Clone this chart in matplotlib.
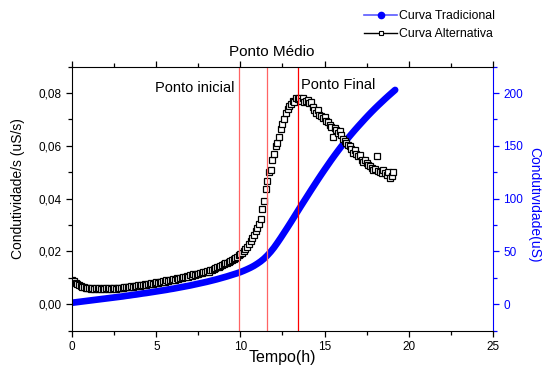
import matplotlib.pyplot as plt
import numpy as np
from matplotlib.lines import Line2D
from matplotlib.ticker import FuncFormatter, MultipleLocator

plt.rcParams['font.family'] = ['Liberation Sans', 'DejaVu Sans']

# tempo (h): curva tradicional a cada 0,2 h, curva alternativa a cada 0,1 h
tempo_trad = np.linspace(0, 19.2, 97)
tempo_alt = np.linspace(0, 19.1, 192)

# condutividade (uS)
condutividade = [
    1.5, 1.9, 2.3, 2.7, 3.1, 3.5, 3.9, 4.3, 4.7, 5.1,
    5.5, 5.9, 6.3, 6.7, 7.1, 7.5, 8.0, 8.4, 8.9, 9.3,
    9.8, 10.3, 10.7, 11.2, 11.7, 12.2, 12.7, 13.2, 13.7, 14.3,
    14.8, 15.4, 16.0, 16.6, 17.2, 17.8, 18.5, 19.2, 19.9, 20.6,
    21.3, 22.1, 22.9, 23.7, 24.6, 25.5, 26.4, 27.4, 28.4, 29.4,
    30.5, 31.8, 33.2, 34.7, 36.4, 38.4, 40.6, 43.2, 46.3, 49.8,
    53.8, 58.3, 63.0, 67.9, 72.8, 77.8, 82.9, 88.0, 93.1, 98.1,
    103.1, 108.1, 113.0, 117.9, 122.7, 127.4, 132.0, 136.6, 141.0, 145.3,
    149.5, 153.5, 157.4, 161.2, 164.9, 168.5, 172.0, 175.5, 178.9, 182.2,
    185.4, 188.5, 191.5, 194.5, 197.4, 200.2, 203.0,
]

# condutividade/s (uS/s)
derivada = [
    0.0093, 0.0088, 0.0081, 0.0076, 0.0072, 0.0069, 0.0066, 0.0064, 0.0062, 0.0061,
    0.0060, 0.0059, 0.0061, 0.0058, 0.0060, 0.0058, 0.0060, 0.0059, 0.0061, 0.0058,
    0.0060, 0.0059, 0.0061, 0.0058, 0.0060, 0.0062, 0.0059, 0.0061, 0.0060, 0.0063,
    0.0062, 0.0066, 0.0064, 0.0067, 0.0065, 0.0069, 0.0067, 0.0070, 0.0068, 0.0072,
    0.0070, 0.0074, 0.0072, 0.0076, 0.0074, 0.0078, 0.0076, 0.0080, 0.0078, 0.0082,
    0.0083, 0.0081, 0.0086, 0.0084, 0.0088, 0.0086, 0.0091, 0.0089, 0.0093, 0.0091,
    0.0095, 0.0093, 0.0098, 0.0096, 0.0101, 0.0099, 0.0104, 0.0102, 0.0107, 0.0105,
    0.0110, 0.0108, 0.0113, 0.0111, 0.0116, 0.0114, 0.0119, 0.0117, 0.0122, 0.0121,
    0.0126, 0.0124, 0.0129, 0.0131, 0.0134, 0.0136, 0.0140, 0.0142, 0.0146, 0.0149,
    0.0152, 0.0155, 0.0158, 0.0162, 0.0165, 0.0169, 0.0172, 0.0176, 0.0180, 0.0185,
    0.0190, 0.0196, 0.0203, 0.0210, 0.0218, 0.0228, 0.0238, 0.0250, 0.0262, 0.0276,
    0.0290, 0.0305, 0.0322, 0.0360, 0.0392, 0.0438, 0.0468, 0.0503, 0.0510, 0.0545,
    0.0570, 0.0600, 0.0612, 0.0635, 0.0665, 0.0682, 0.0700, 0.0725, 0.0738, 0.0750,
    0.0760, 0.0771, 0.0768, 0.0781, 0.0776, 0.0782, 0.0770, 0.0780, 0.0768, 0.0771,
    0.0772, 0.0762, 0.0765, 0.0748, 0.0737, 0.0725, 0.0735, 0.0718, 0.0712, 0.0705,
    0.0710, 0.0695, 0.0692, 0.0680, 0.0670, 0.0632, 0.0667, 0.0660, 0.0648, 0.0655,
    0.0640, 0.0628, 0.0620, 0.0612, 0.0604, 0.0598, 0.0590, 0.0573, 0.0585, 0.0568,
    0.0560, 0.0565, 0.0548, 0.0540, 0.0545, 0.0535, 0.0528, 0.0522, 0.0518, 0.0509,
    0.0512, 0.0562, 0.0505, 0.0503, 0.0498, 0.0508, 0.0497, 0.0490, 0.0502, 0.0478,
    0.0485, 0.0500,
]

# pontos marcados (h)
marcos = [9.92, 11.6, 13.44]
cores_marcos = ['#ff6464', '#ff6464', '#ff0000']


def virgula(v, pos):
    return f'{v:.2f}'.replace('.', ',')


fig = plt.figure(figsize=(5.42, 3.73), dpi=100)
ax = fig.add_axes([0.1334, 0.1134, 0.7756, 0.7078])
ax2 = ax.twinx()
ax.set_zorder(ax2.get_zorder() + 1)
ax.patch.set_visible(False)

# pontos muito densos: desenhados como faixa contínua
ax2.plot(tempo_trad, condutividade, '-', color='blue', lw=4.8,
         solid_capstyle='round', solid_joinstyle='round')
ax.plot(tempo_alt, derivada, 's', ms=4.5, mfc='white', mec='black', mew=0.9)
for x, c in zip(marcos, cores_marcos):
    ax.axvline(x, color=c, lw=0.9)

ax.set_xlim(0, 25)
ax.set_ylim(-0.01, 0.09)
ax2.set_ylim(-25, 225)

ax.xaxis.set_major_locator(MultipleLocator(5))
ax.xaxis.set_minor_locator(MultipleLocator(2.5))
ax.yaxis.set_major_locator(MultipleLocator(0.02))
ax.yaxis.set_minor_locator(MultipleLocator(0.01))
ax.yaxis.set_major_formatter(FuncFormatter(virgula))
ax2.yaxis.set_major_locator(MultipleLocator(50))
ax2.yaxis.set_minor_locator(MultipleLocator(25))

ax.xaxis.set_ticks_position('both')
ax.tick_params(which='both', direction='out', labelsize=8.5, width=0.9)
ax.tick_params(which='major', length=4)
ax.tick_params(which='minor', length=3)
ax2.tick_params(which='both', direction='out', colors='blue', labelsize=8.5, width=0.9)
ax2.tick_params(which='major', length=4)
ax2.tick_params(which='minor', length=3)

ax.spines['right'].set_visible(False)
for s in ['left', 'top', 'bottom']:
    ax2.spines[s].set_visible(False)
ax2.spines['right'].set_color('blue')

ax.set_xlabel('Tempo(h)', fontsize=11.5, va='center')
ax.xaxis.set_label_coords(0.5, -0.103)
ax.set_ylabel('Condutividade/s (uS/s)', fontsize=10, va='center')
ax.yaxis.set_label_coords(-0.128, 0.54)
ax2.set_ylabel('Condutividade(uS)', fontsize=10, color='blue', rotation=270,
               va='center')
ax2.yaxis.set_label_coords(1.0995, 0.476)

ax.text(11.87, 0.0956, 'Ponto Médio', fontsize=11, ha='center', va='center',
        clip_on=False)
ax.text(4.92, 0.082, 'Ponto inicial', fontsize=10.5, ha='left', va='center')
ax.text(13.6, 0.0831, 'Ponto Final', fontsize=10.5, ha='left', va='center')

handles = [
    Line2D([], [], color='#5a5aff', lw=1.2, marker='o', ms=4.5, mfc='blue', mec='blue'),
    Line2D([], [], color='black', lw=1, marker='s', ms=3.5, mfc='white', mec='black', mew=0.8),
]
fig.legend(handles, ['Curva Tradicional', 'Curva Alternativa'], loc='upper left',
           bbox_to_anchor=(0.6716, 0.972), frameon=False, fontsize=8.8,
           borderpad=0, borderaxespad=0, handlelength=2.7, handletextpad=0.2,
           labelspacing=0.45)

fig.savefig('out.png', dpi=100)
